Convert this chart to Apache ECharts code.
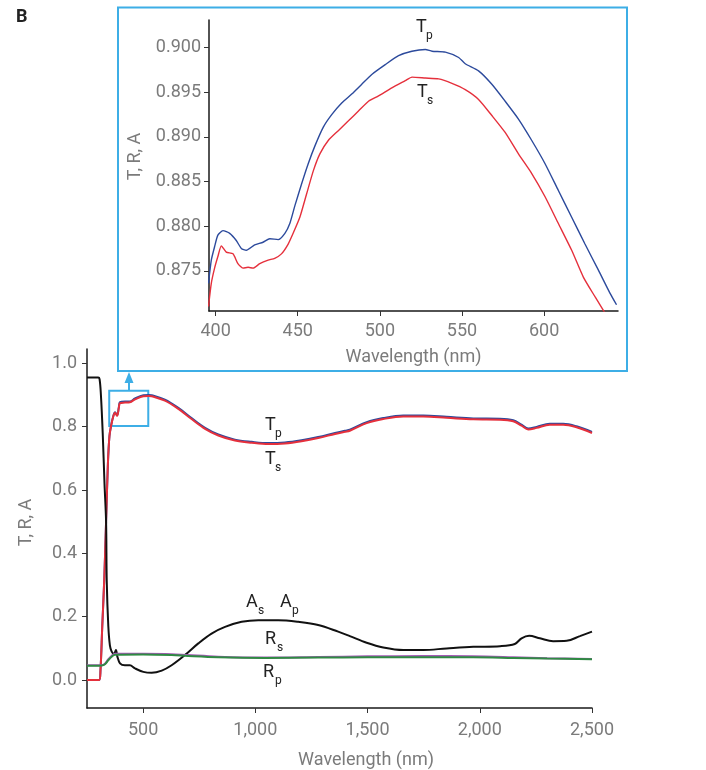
<!DOCTYPE html>
<html>
<head>
<meta charset="utf-8">
<script src="https://cdn.jsdelivr.net/npm/echarts@6/dist/echarts.min.js"></script>
<style>
  html, body { margin: 0; padding: 0; background: #fff; }
  #chart { width: 706px; height: 770px; }
</style>
</head>
<body>
<div id="chart"></div>
<script>
// main panel: transmittance (T), absorbance (A), reflectance (R)
var tWave = [250, 304, 310, 318, 327, 335, 343, 350, 358, 367, 375, 384, 392, 397, 419, 441, 464, 501, 525, 538, 597, 657, 716, 776, 835, 909, 984, 1058, 1132, 1206, 1280, 1355, 1399, 1421, 1496, 1570, 1659, 1748, 1852, 1971, 2090, 2149, 2186, 2216, 2253, 2312, 2372, 2431, 2500];
var tsMain = [0, 0, 0.03, 0.17, 0.32, 0.5, 0.68, 0.77, 0.805, 0.832, 0.844, 0.834, 0.86, 0.874, 0.876, 0.877, 0.886, 0.896, 0.897, 0.896, 0.882, 0.856, 0.824, 0.793, 0.772, 0.756, 0.749, 0.745, 0.747, 0.754, 0.764, 0.777, 0.784, 0.787, 0.811, 0.824, 0.832, 0.832, 0.828, 0.823, 0.822, 0.817, 0.803, 0.791, 0.796, 0.806, 0.806, 0.798, 0.780];
var tpMain = [0, 0, 0.03, 0.17, 0.32, 0.5, 0.68, 0.77, 0.805, 0.833, 0.845, 0.836, 0.862, 0.877, 0.879, 0.879, 0.889, 0.899, 0.900, 0.899, 0.885, 0.859, 0.827, 0.796, 0.775, 0.759, 0.752, 0.748, 0.750, 0.757, 0.767, 0.780, 0.787, 0.790, 0.814, 0.827, 0.835, 0.835, 0.831, 0.826, 0.825, 0.820, 0.806, 0.794, 0.799, 0.809, 0.809, 0.801, 0.783];

var aWave = [250, 300, 306, 312, 320, 328, 335, 338, 345, 352, 360, 370, 379, 385, 397, 419, 441, 464, 501, 538, 583, 627, 686, 746, 805, 865, 939, 1013, 1102, 1191, 1280, 1369, 1421, 1496, 1570, 1659, 1748, 1852, 1971, 2090, 2156, 2186, 2220, 2268, 2327, 2387, 2446, 2500];
var aMain = [0.955, 0.955, 0.95, 0.90, 0.78, 0.62, 0.5, 0.31, 0.17, 0.11, 0.09, 0.083, 0.095, 0.075, 0.053, 0.047, 0.047, 0.037, 0.026, 0.023, 0.030, 0.047, 0.079, 0.116, 0.147, 0.168, 0.184, 0.189, 0.189, 0.184, 0.174, 0.153, 0.139, 0.118, 0.103, 0.095, 0.095, 0.100, 0.105, 0.107, 0.114, 0.132, 0.140, 0.132, 0.123, 0.124, 0.139, 0.153];

var rWave = [250, 315, 330, 345, 360, 375, 500, 627, 700, 835, 1043, 1280, 1500, 1750, 1970, 2150, 2300, 2500];
var rsMain = [0.047, 0.047, 0.052, 0.066, 0.077, 0.083, 0.083, 0.082, 0.079, 0.074, 0.071, 0.073, 0.075, 0.076, 0.075, 0.072, 0.069, 0.067];
var rpMain = [0.045, 0.046, 0.050, 0.063, 0.074, 0.080, 0.081, 0.079, 0.076, 0.072, 0.070, 0.071, 0.072, 0.072, 0.072, 0.070, 0.068, 0.066];

// inset: zoom on T between 396 and 645 nm
var tpInsetWave = [395.7, 397.4, 399.4, 401.4, 404.5, 408.6, 412.6, 415.7, 418.7, 423.8, 428.9, 433, 438.1, 442.2, 445.2, 448.3, 452.3, 456.4, 460.5, 465.6, 470.7, 476.8, 482.9, 489, 495.1, 503.3, 511.4, 519.5, 527.7, 531.8, 539.9, 548, 552, 560.1, 568.2, 576.3, 584.4, 592.5, 600.6, 608.7, 616.8, 624.9, 633, 640.1, 644.1];
var tpInset = [0.8736, 0.8762, 0.8777, 0.8790, 0.8795, 0.8792, 0.8784, 0.8775, 0.8773, 0.8779, 0.8782, 0.8786, 0.8785, 0.8792, 0.8803, 0.8823, 0.8847, 0.8870, 0.8890, 0.8911, 0.8925, 0.8938, 0.8948, 0.8959, 0.8970, 0.8981, 0.8991, 0.8996, 0.8998, 0.8996, 0.8995, 0.8989, 0.8982, 0.8974, 0.8959, 0.8940, 0.8920, 0.8896, 0.8870, 0.8840, 0.8810, 0.8780, 0.8751, 0.8725, 0.8712];
var tsInsetWave = [395.7, 397.4, 399.4, 401.4, 403.5, 406.5, 410.6, 413.6, 416.7, 419.8, 422.8, 426.9, 432, 436, 440.1, 444.2, 447.2, 451.3, 455.4, 459.5, 463.5, 468.6, 474.7, 480.9, 487, 493.1, 499.2, 507.3, 515.5, 519.6, 527.7, 535.8, 543.9, 552, 560.1, 568.2, 576.3, 584.4, 592.5, 600.6, 608.7, 616.8, 623.9, 631, 636, 638];
var tsInset = [0.8710, 0.8736, 0.8753, 0.8766, 0.8778, 0.8771, 0.8769, 0.8758, 0.8753, 0.8754, 0.8753, 0.8758, 0.8762, 0.8764, 0.8769, 0.8780, 0.8792, 0.8810, 0.8836, 0.8862, 0.8881, 0.8896, 0.8907, 0.8918, 0.8929, 0.8940, 0.8946, 0.8955, 0.8963, 0.8967, 0.8966, 0.8965, 0.8960, 0.8953, 0.8942, 0.8924, 0.8905, 0.8881, 0.8859, 0.8833, 0.8803, 0.8773, 0.8743, 0.8721, 0.8706, 0.8700];

var mainXTicks = [500, 1000, 1500, 2000, 2500];
var mainYTicks = [0, 0.2, 0.4, 0.6, 0.8, 1.0];
var insetXTicks = [400, 450, 500, 550, 600];
var insetYTicks = [0.875, 0.88, 0.885, 0.89, 0.895, 0.9];

function pairs(xs, ys) {
  return xs.map(function (x, i) { return [x, ys[i]]; });
}

var FONT = "Roboto, 'Noto Sans', sans-serif";
var GREY = "#7b7b7b";
var BLUE = "#3daee6";
var FS = 18;

function axisBase() {
  return {
    axisLine: { onZero: false, lineStyle: { color: "#1a1a1a", width: 1.5 } },
    splitLine: { show: false },
  };
}

function tick(vals) {
  return { length: 5, lineStyle: { color: "#333" }, customValues: vals };
}

function sub(x, y, main, s) {
  return {
    type: "group",
    children: [
      { type: "text", x: x, y: y, style: { text: main, fill: "#222", font: "18px " + FONT } },
      { type: "text", x: x + (main == "T" ? 10 : 12), y: y + 12, style: { text: s, fill: "#222", font: "12px " + FONT } },
    ],
  };
}

var chart = echarts.init(document.getElementById("chart"));

var option = {
  animation: false,
  grid: [
    { left: 87, top: 349, width: 505, height: 359 },
    { left: 209, top: 20, width: 409, height: 291 },
  ],
  xAxis: [
    Object.assign(axisBase(), {
      gridIndex: 0, type: "value", min: 250, max: 2500,
      name: "Wavelength (nm)", nameLocation: "middle", nameGap: 43,
      nameTextStyle: { color: GREY, fontSize: FS, fontFamily: FONT, padding: [0, 0, 0, 53] },
      axisTick: tick(mainXTicks),
      axisLabel: {
        customValues: mainXTicks, color: GREY, fontSize: FS, fontFamily: FONT, margin: 13,
        formatter: function (v) { return v.toLocaleString("en-US"); },
      },
    }),
    Object.assign(axisBase(), {
      gridIndex: 1, type: "value", min: 396, max: 645,
      name: "Wavelength (nm)", nameLocation: "middle", nameGap: 37,
      nameTextStyle: { color: GREY, fontSize: FS, fontFamily: FONT },
      axisTick: tick(insetXTicks),
      axisLabel: { customValues: insetXTicks, color: GREY, fontSize: FS, fontFamily: FONT, margin: 11 },
    }),
  ],
  yAxis: [
    Object.assign(axisBase(), {
      gridIndex: 0, type: "value", min: -0.088, max: 1.045,
      name: "T, R, A", nameLocation: "middle", nameGap: 52,
      nameTextStyle: { color: GREY, fontSize: FS, fontFamily: FONT, padding: [0, 0, 0, 12] },
      axisTick: tick(mainYTicks),
      axisLabel: {
        customValues: mainYTicks, color: GREY, fontSize: FS, fontFamily: FONT, margin: 10,
        formatter: function (v) { return v.toFixed(1); },
      },
    }),
    Object.assign(axisBase(), {
      gridIndex: 1, type: "value", min: 0.8705, max: 0.9031,
      name: "T, R, A", nameLocation: "middle", nameGap: 60,
      nameTextStyle: { color: GREY, fontSize: FS, fontFamily: FONT, padding: [0, 0, 0, 18] },
      axisTick: tick(insetYTicks),
      axisLabel: {
        customValues: insetYTicks, color: GREY, fontSize: FS, fontFamily: FONT, margin: 8,
        formatter: function (v) { return v.toFixed(3); },
      },
    }),
  ],
  series: [
    {
      name: "Tp", type: "line", xAxisIndex: 0, yAxisIndex: 0, data: pairs(tWave, tpMain),
      showSymbol: false, smooth: 0.35, lineStyle: { color: "#2c4a9c", width: 2 },
    },
    {
      name: "Ts", type: "line", xAxisIndex: 0, yAxisIndex: 0, data: pairs(tWave, tsMain),
      showSymbol: false, smooth: 0.35, lineStyle: { color: "#e5303c", width: 2 },
      markArea: {
        silent: true,
        itemStyle: { color: "rgba(0,0,0,0)", borderColor: BLUE, borderWidth: 2 },
        data: [[{ coord: [349, 0.9135] }, { coord: [523, 0.802] }]],
      },
    },
    {
      name: "A", type: "line", xAxisIndex: 0, yAxisIndex: 0, data: pairs(aWave, aMain),
      showSymbol: false, smooth: 0.35, lineStyle: { color: "#111", width: 2 },
    },
    {
      name: "Rs", type: "line", xAxisIndex: 0, yAxisIndex: 0, data: pairs(rWave, rsMain),
      showSymbol: false, smooth: 0.35, lineStyle: { color: "#a45bb5", width: 2 },
    },
    {
      name: "Rp", type: "line", xAxisIndex: 0, yAxisIndex: 0, data: pairs(rWave, rpMain),
      showSymbol: false, smooth: 0.35, lineStyle: { color: "#2f8a43", width: 2 },
    },
    {
      name: "Tp inset", type: "line", xAxisIndex: 1, yAxisIndex: 1, data: pairs(tpInsetWave, tpInset),
      showSymbol: false, smooth: 0.2, clip: true, lineStyle: { color: "#2c4a9c", width: 1.4 },
    },
    {
      name: "Ts inset", type: "line", xAxisIndex: 1, yAxisIndex: 1, data: pairs(tsInsetWave, tsInset),
      showSymbol: false, smooth: 0.2, clip: true, lineStyle: { color: "#e5303c", width: 1.4 },
    },
  ],
  graphic: [
    { type: "text", x: 16, y: 8, style: { text: "B", fill: "#222", font: "bold 18px " + FONT } },
    {
      type: "rect", shape: { x: 118, y: 7.5, width: 509, height: 363.5 },
      style: { fill: "none", stroke: BLUE, lineWidth: 2 }, silent: true,
    },
    { type: "line", shape: { x1: 129, y1: 382, x2: 129, y2: 391 }, style: { stroke: BLUE, lineWidth: 2 } },
    { type: "polygon", shape: { points: [[129, 372], [124.5, 383], [133.5, 383]] }, style: { fill: BLUE } },
    sub(265, 416, "T", "p"),
    sub(265, 450, "T", "s"),
    sub(246, 593, "A", "s"),
    sub(280, 593, "A", "p"),
    sub(265, 630, "R", "s"),
    sub(263, 663, "R", "p"),
    sub(416, 18, "T", "p"),
    sub(417, 83, "T", "s"),
  ],
};

chart.setOption(option);
</script>
</body>
</html>
